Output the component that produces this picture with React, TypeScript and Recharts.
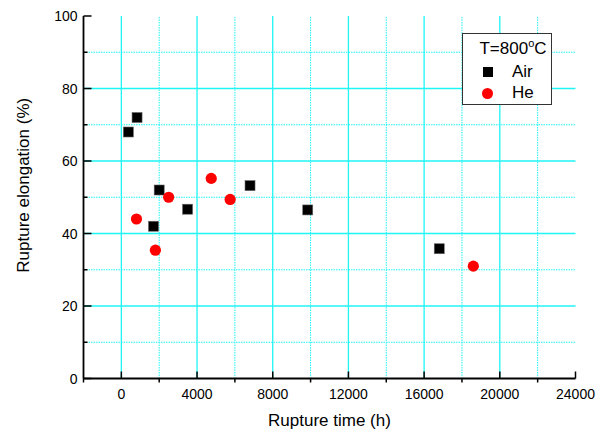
import React from 'react';
import { ScatterChart, Scatter, XAxis, YAxis, ReferenceLine, Legend } from 'recharts';

const airTime = [370, 830, 1700, 2000, 3500, 6800, 9850, 16800];
const airElong = [68, 72, 42, 52, 46.7, 53.2, 46.5, 35.8];
const heTime = [800, 1800, 2500, 4750, 5750, 18600];
const heElong = [44, 35.4, 50, 55.2, 49.4, 31];

const xTicks = [-2000, 0, 2000, 4000, 6000, 8000, 10000, 12000, 14000, 16000, 18000, 20000, 22000, 24000];
const xLabelTicks = [0, 4000, 8000, 12000, 16000, 20000, 24000];
const yTicks = [0, 10, 20, 30, 40, 50, 60, 70, 80, 90, 100];
const yLabelTicks = [0, 20, 40, 60, 80, 100];
const xMajorGrid = [0, 4000, 8000, 12000, 16000, 20000];
const xMinorGrid = [2000, 6000, 10000, 14000, 18000, 22000];
const yMajorGrid = [20, 40, 60, 80];
const yMinorGrid = [10, 30, 50, 70, 90];

const airData = airTime.map((t, i) => ({ t, e: airElong[i] }));
const heData = heTime.map((t, i) => ({ t, e: heElong[i] }));

const FONT = '"Liberation Sans", Arial, sans-serif';
const GRID = '#1ff5f5';

const BottomTick = (props: any) => {
  const { x, y, payload } = props;
  const major = xLabelTicks.includes(payload.value);
  return (
    <g>
      <line x1={x} x2={x} y1={y} y2={major ? y - 7 : y + 4} stroke="#000" strokeWidth={1.5} />
      {major && (
        <text x={x} y={y + 15} textAnchor="middle" dominantBaseline="central" fontFamily={FONT} fontSize={14} fill="#000">
          {payload.value}
        </text>
      )}
    </g>
  );
};

const TopTick = (props: any) => {
  const { x, y, payload } = props;
  const major = xLabelTicks.includes(payload.value);
  return <line x1={x} x2={x} y1={y} y2={major ? y + 7 : y + 4} stroke="#000" strokeWidth={1.5} />;
};

const LeftTick = (props: any) => {
  const { x, y, payload } = props;
  const major = yLabelTicks.includes(payload.value);
  return (
    <g>
      <line x1={x} x2={major ? x + 8 : x + 4} y1={y} y2={y} stroke="#000" strokeWidth={1.5} />
      {major && (
        <text x={x - 6} y={y} textAnchor="end" dominantBaseline="central" fontFamily={FONT} fontSize={14} fill="#000">
          {payload.value}
        </text>
      )}
    </g>
  );
};

const RightTick = (props: any) => {
  const { x, y, payload } = props;
  const major = yLabelTicks.includes(payload.value);
  return <line x1={x} x2={major ? x - 7 : x - 4} y1={y} y2={y} stroke="#000" strokeWidth={1.5} />;
};

const SquareShape = (props: any) => {
  const { cx, cy } = props;
  return <rect x={cx - 5} y={cy - 5} width={10} height={10} fill="#000" stroke="#666" strokeWidth={0.6} />;
};

const CircleShape = (props: any) => {
  const { cx, cy } = props;
  return <circle cx={cx} cy={cy} r={5.6} fill="#ff0000" />;
};

const renderLegend = (props: any) => {
  const payload = props.payload || [];
  return (
    <div
      style={{
        position: 'relative',
        width: 88,
        height: 70,
        border: '1px solid #333',
        background: '#fff',
        fontFamily: FONT,
        fontSize: 17,
        color: '#000',
        boxSizing: 'content-box',
        textAlign: 'left',
      }}
    >
      <div style={{ position: 'absolute', left: 0, width: 100, top: 5, textAlign: 'center', lineHeight: '20px', whiteSpace: 'nowrap' }}>
        T=800<span style={{ fontSize: 11, position: 'relative', top: -7 }}>o</span>C
      </div>
      {payload.map((entry: any, i: number) => {
        const cy = 38 + i * 21;
        const isAir = entry.value === 'Air';
        return (
          <React.Fragment key={entry.value}>
            {isAir ? (
              <div style={{ position: 'absolute', left: 20, top: cy - 5, width: 10, height: 10, background: '#000' }} />
            ) : (
              <div style={{ position: 'absolute', left: 19, top: cy - 5.5, width: 11, height: 11, borderRadius: '50%', background: '#ff0000' }} />
            )}
            <div style={{ position: 'absolute', left: 49, top: cy - 10, lineHeight: '20px' }}>{entry.value}</div>
          </React.Fragment>
        );
      })}
    </div>
  );
};

export default function App() {
  return (
    <div style={{ position: 'absolute', left: 0, top: 0 }}>
      <ScatterChart width={597} height={430} margin={{ top: 16, right: 21.5, left: 0, bottom: 0 }}>
        {xMinorGrid.map((v) => (
          <ReferenceLine key={'xm' + v} x={v} stroke={GRID} strokeWidth={1} strokeDasharray="1.5 1" />
        ))}
        {yMinorGrid.map((v) => (
          <ReferenceLine key={'ym' + v} y={v} stroke={GRID} strokeWidth={1} strokeDasharray="1.5 1" />
        ))}
        {xMajorGrid.map((v) => (
          <ReferenceLine key={'xM' + v} x={v} stroke={GRID} strokeWidth={1.3} />
        ))}
        {yMajorGrid.map((v) => (
          <ReferenceLine key={'yM' + v} y={v} stroke={GRID} strokeWidth={1.3} />
        ))}
        <XAxis
          type="number"
          dataKey="t"
          domain={[-2000, 24000]}
          allowDataOverflow
          ticks={xTicks}
          interval={0}
          height={51.5}
          tickSize={0}
          tickMargin={0}
          tickLine={false}
          tick={<BottomTick />}
          axisLine={{ stroke: '#000', strokeWidth: 1.8 }}
          label={{
            content: (p: any) => {
              const vb = p.viewBox;
              return (
                <text x={vb.x + vb.width / 2} y={vb.y + 42} textAnchor="middle" dominantBaseline="central" fontFamily={FONT} fontSize={17} fill="#000">
                  Rupture time (h)
                </text>
              );
            },
          }}
        />
        <XAxis
          xAxisId="top"
          orientation="top"
          type="number"
          dataKey="t"
          domain={[-2000, 24000]}
          allowDataOverflow
          ticks={xTicks}
          interval={0}
          height={0}
          tickSize={0}
          tickMargin={0}
          tickLine={false}
          tick={<TopTick />}
          axisLine={{ stroke: '#000', strokeWidth: 1.8 }}
        />
        <YAxis
          type="number"
          dataKey="e"
          domain={[0, 100]}
          allowDataOverflow
          ticks={yTicks}
          interval={0}
          width={83.5}
          tickSize={0}
          tickMargin={0}
          tickLine={false}
          tick={<LeftTick />}
          axisLine={{ stroke: '#000', strokeWidth: 1.8 }}
          label={{
            content: (p: any) => {
              const vb = p.viewBox;
              const cx = vb.x + 23;
              const cy = vb.y + vb.height / 2 - 12;
              return (
                <text x={cx} y={cy} transform={`rotate(-90 ${cx} ${cy})`} textAnchor="middle" dominantBaseline="central" fontFamily={FONT} fontSize={17} fill="#000">
                  Rupture elongation (%)
                </text>
              );
            },
          }}
        />
        <YAxis
          yAxisId="right"
          orientation="right"
          type="number"
          dataKey="e"
          domain={[0, 100]}
          allowDataOverflow
          ticks={yTicks}
          interval={0}
          width={0}
          tickSize={0}
          tickMargin={0}
          tickLine={false}
          tick={<RightTick />}
          axisLine={{ stroke: '#000', strokeWidth: 1.8 }}
        />
        <Scatter name="Air" data={airData} fill="#000" shape={<SquareShape />} isAnimationActive={false} />
        <Scatter name="He" data={heData} fill="#ff0000" shape={<CircleShape />} isAnimationActive={false} />
        <Legend
          layout="vertical"
          verticalAlign="middle"
          align="center"
          content={renderLegend}
          wrapperStyle={{ position: 'absolute', left: 462, top: 33, width: 'auto', height: 'auto', margin: 0 }}
        />
      </ScatterChart>
    </div>
  );
}
